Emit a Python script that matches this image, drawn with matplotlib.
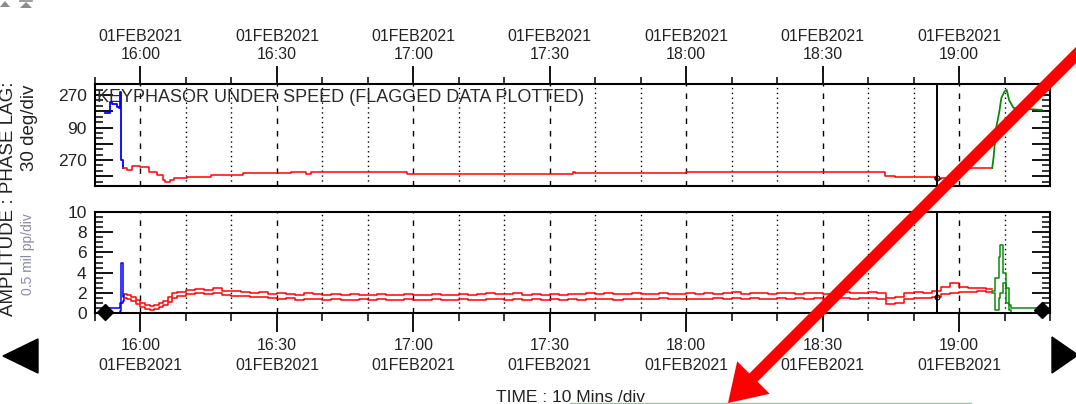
import matplotlib
matplotlib.use("Agg")
import matplotlib.pyplot as plt
import matplotlib.dates as mdates
from matplotlib.ticker import FuncFormatter
from matplotlib.patches import Polygon, FancyArrow
from matplotlib.lines import Line2D
import numpy as np
import pandas as pd

plt.rcParams['font.family'] = ['Liberation Sans', 'DejaVu Sans']

START = pd.Timestamp("2021-02-01 16:00")

# ---------------------------------------------------------------------
# Trend data (times in minutes after 16:00)
# ---------------------------------------------------------------------
# phase lag, unwrapped degrees
phase_blue_t = [-7.7, -6.9, -6.8, -6.3, -5.5, -5.1, -4.8, -4.5, -4.4, -4.2, -3.9]
phase_blue = [170, 170, 231, 220, 220, 204, 198, 198, 287, -90, -134]

phase_red_t = [-3.9, -3.0, -1.8, 0.0, 0.5, 1.8, 3.7, 5.0, 5.5, 6.5, 7.3, 10.3, 15.4,
               22.6, 33.0, 36.5, 37.5, 58.0, 58.6, 95.0, 95.6, 120.0, 163.7, 166.0,
               174.7, 176.0, 180.0, 181.0, 187.3]
phase_red = [-134, -145, -123, -129, -129, -156, -173, -200, -212, -201, -190, -184, -173,
             -162, -157, -170, -157, -157, -165, -157, -163, -157, -179, -184,
             -195, -190, -150, -134, -134]

phase_green_t = [187.3, 187.6, 188.2, 188.8, 189.3, 190.0, 190.5, 191.0, 192.0, 195.0, 198.2]
phase_green = [-134, -73, 93, 170, 253, 290, 298, 242, 198, 193, 187]

# amplitude, mil pp (upper / lower trace)
amp_blue_t = [-7.7, -4.8, -4.5, -4.2, -3.9, -3.7]
amp_blue_hi = [0.5, 0.5, 1.0, 5.0, 1.6, 1.9]
amp_blue_lo = [0.0, 0.0, 0.2, 1.0, 1.2, 1.5]

amp_red_t = [-3.7, -3.0, -2.0, -1.0, 0, 1, 2, 3, 4, 5, 6, 7,
             8, 10, 12, 14, 16, 18, 20, 22, 24, 26, 28, 30,
             32, 34, 36, 38, 40, 42, 44, 46, 48, 50, 52, 54,
             56, 58, 60, 62, 64, 66, 68, 70, 72, 74, 76, 78,
             80, 82, 84, 86, 88, 90, 92, 94, 96, 98, 100, 102,
             104, 106, 108, 110, 112, 114, 116, 118, 120, 122, 124, 126,
             128, 130, 132, 134, 136, 138, 140, 142, 144, 146, 148, 150,
             152, 154, 156, 158, 160, 162, 164, 166, 168, 170, 172, 174,
             176, 178, 180, 182, 184, 186, 187.3]
amp_red_hi = [1.9, 1.8, 1.6, 1.3, 1.0, 0.8, 0.7, 0.8, 1.0, 1.2, 1.6, 2.0,
              2.1, 2.3, 2.4, 2.3, 2.5, 2.2, 2.2, 2.1, 2.0, 2.1, 1.9, 2.0,
              1.9, 1.8, 2.0, 1.9, 1.8, 1.9, 1.8, 1.9, 1.8, 1.8, 1.9, 1.8,
              1.8, 1.9, 1.8, 1.8, 1.9, 1.8, 1.8, 1.9, 1.8, 1.9, 2.0, 1.9,
              1.9, 2.0, 1.8, 1.9, 1.8, 1.9, 1.8, 1.9, 1.9, 2.0, 1.9, 2.0,
              1.9, 1.9, 2.0, 1.9, 1.9, 2.0, 1.9, 1.9, 2.0, 1.9, 2.0, 1.9,
              2.0, 2.1, 1.9, 2.0, 2.0, 1.9, 2.0, 2.0, 1.9, 2.0, 2.0, 1.9,
              2.0, 2.1, 2.0, 2.0, 2.1, 2.0, 1.5, 1.6, 2.0, 2.1, 2.0, 2.2,
              2.6, 3.0, 2.6, 2.5, 2.5, 2.4, 2.4]
amp_red_lo = [1.5, 1.4, 1.2, 0.9, 0.6, 0.4, 0.3, 0.4, 0.6, 0.8, 1.1, 1.5,
              1.7, 1.9, 2.0, 1.9, 2.0, 1.8, 1.7, 1.7, 1.6, 1.6, 1.5, 1.4,
              1.5, 1.3, 1.4, 1.4, 1.3, 1.4, 1.3, 1.3, 1.4, 1.3, 1.4, 1.3,
              1.3, 1.4, 1.3, 1.3, 1.4, 1.3, 1.3, 1.4, 1.3, 1.3, 1.4, 1.4,
              1.3, 1.4, 1.3, 1.4, 1.3, 1.4, 1.3, 1.4, 1.3, 1.4, 1.4, 1.4,
              1.3, 1.4, 1.4, 1.4, 1.4, 1.5, 1.4, 1.4, 1.4, 1.4, 1.4, 1.5,
              1.4, 1.5, 1.4, 1.5, 1.4, 1.4, 1.5, 1.4, 1.5, 1.4, 1.5, 1.4,
              1.5, 1.5, 1.4, 1.5, 1.5, 1.4, 0.9, 1.0, 1.4, 1.5, 1.5, 1.6,
              1.9, 2.0, 2.1, 2.1, 2.2, 2.1, 2.1]

amp_green_t = [187.3, 188.0, 188.8, 189.0, 189.6, 190.3, 191.0, 191.5, 198.2]
amp_green_hi = [2.2, 3.5, 5.5, 6.7, 4.0, 2.5, 0.8, 0.5, 0.4]
amp_green_lo = [2.0, 0.3, 1.5, 2.0, 3.0, 1.0, 0.3, 0.0, 0.0]

marker_t = [-7.7, 198.2]
marker_amp = [0.1, 0.3]
cursor_t = 175.2
cursor_phase = -190
cursor_amp = 1.6

phase_tick_pos = [-180, -90, 0, 90, 180, 270]
phase_tick_lab = ["", "270", "", "90", "", "270"]


def to_time(mins):
    return (START + pd.to_timedelta(np.asarray(mins, dtype=float), unit="min")).to_numpy()


def fmt_top(x, pos):
    d = mdates.num2date(x)
    return d.strftime("%d%b%Y").upper() + "\n" + d.strftime("%H:%M")


def fmt_bottom(x, pos):
    d = mdates.num2date(x)
    return d.strftime("%H:%M") + "\n" + d.strftime("%d%b%Y").upper()


W, H = 1076, 404
fig = plt.figure(figsize=(W / 100, H / 100), dpi=100)


def px(x, y):
    # pixel position (from top-left) -> inches from bottom-left
    return x / 100, (H - y) / 100


ax1 = fig.add_axes([95 / W, 1 - 186 / H, 955 / W, 102 / H])
ax2 = fig.add_axes([95 / W, 1 - 313 / H, 955 / W, 101 / H])

RED, BLUE, GREEN = "#ff0000", "#0000ff", "#0a8a0a"

# phase lag traces
ax1.plot(to_time(phase_blue_t), phase_blue, color=BLUE, lw=1.3, drawstyle="steps-post")
ax1.plot(to_time(phase_red_t), phase_red, color=RED, lw=1.1, drawstyle="steps-post")
ax1.plot(to_time(phase_green_t), phase_green, color=GREEN, lw=1.3)
ax1.plot(to_time([cursor_t]), [cursor_phase], "o", ms=3.5, mfc="none", mec="k", mew=0.8)

# amplitude traces
for t, hi, lo, c in [(amp_blue_t, amp_blue_hi, amp_blue_lo, BLUE),
                     (amp_red_t, amp_red_hi, amp_red_lo, RED),
                     (amp_green_t, amp_green_hi, amp_green_lo, GREEN)]:
    ax2.plot(to_time(t), hi, color=c, lw=1.1, drawstyle="steps-post")
    ax2.plot(to_time(t), lo, color=c, lw=1.1, drawstyle="steps-post")
ax2.plot(to_time(marker_t), marker_amp, "D", ms=8, color="k", clip_on=False, zorder=5)
ax2.plot(to_time([cursor_t]), [cursor_amp], "o", ms=3.5, mfc="none", mec="k", mew=0.8)

t0, t1 = to_time([-10, 200])
grid_times = to_time(np.arange(0, 191, 10))

for ax in (ax1, ax2):
    ax.set_xlim(t0, t1)
    for i, gt in enumerate(grid_times):
        ls = (0, (4, 5)) if i % 3 == 0 else (0, (1, 2.5))
        ax.axvline(gt, color="k", lw=1.0, ls=ls, zorder=0)
    ax.axvline(to_time([cursor_t])[0], color="k", lw=1.4, zorder=3)
    for s in ax.spines.values():
        s.set_linewidth(1.5)
    ax.xaxis.set_major_locator(mdates.MinuteLocator(byminute=[0, 30]))
    ax.xaxis.set_minor_locator(mdates.MinuteLocator(byminute=range(0, 60, 10)))
    ax.tick_params(axis="y", which="major", direction="in", length=13, width=1.3,
                   left=True, right=True, labelsize=12.5, pad=6, labelcolor="#222")
    ax.tick_params(axis="y", which="minor", direction="in", length=6, width=1.1,
                   left=True, right=True)

# top panel: time labels above
ax1.xaxis.tick_top()
ax1.xaxis.set_major_formatter(FuncFormatter(fmt_top))
ax1.tick_params(axis="x", which="major", direction="out", length=13, width=1.3,
                top=True, bottom=False, labeltop=True, labelbottom=False,
                labelsize=11.5, pad=3, labelcolor="#222")
ax1.tick_params(axis="x", which="minor", direction="out", length=5, width=1.1,
                top=True, bottom=False)
for lab in ax1.get_xticklabels():
    lab.set_linespacing(1.25)
ax1.set_ylim(-234, 331)
ax1.set_yticks(phase_tick_pos)
ax1.set_yticklabels(phase_tick_lab)
ax1.set_yticks(np.arange(-210, 331, 30), minor=True)
ax1.text(0.002, 0.87, "KEYPHASOR UNDER SPEED (FLAGGED DATA PLOTTED)",
         transform=ax1.transAxes, fontsize=13, color="#2a2a2a", va="center", ha="left")

# bottom panel: time labels below
ax2.xaxis.set_major_formatter(FuncFormatter(fmt_bottom))
ax2.tick_params(axis="x", which="major", direction="out", length=14, width=1.3,
                top=False, bottom=True, labelsize=11.5, pad=4, labelcolor="#222")
ax2.tick_params(axis="x", which="minor", direction="out", length=6, width=1.1,
                top=False, bottom=True)
for lab in ax2.get_xticklabels():
    lab.set_linespacing(1.45)
ax2.set_ylim(0, 10)
ax2.set_yticks(np.arange(0, 11, 2))
ax2.set_yticks(np.arange(0, 10.01, 0.5), minor=True)

# axis captions
fig.text(9 / W, 1 - 199 / H, "AMPLITUDE : PHASE LAG:", rotation=90, fontsize=13.5,
         color="#222", ha="center", va="center")
fig.text(30 / W, 1 - 128 / H, "30 deg/div", rotation=90, fontsize=13.5,
         color="#222", ha="center", va="center")
fig.text(28 / W, 1 - 254 / H, "0.5 mil pp/div", rotation=90, fontsize=10,
         color="#8a8aa8", ha="center", va="center")
fig.text(570 / W, 1 - 402 / H, "TIME : 10 Mins /div", fontsize=12.5,
         color="#222", ha="center", va="baseline")

# navigation arrows and small icons
tr = fig.dpi_scale_trans
fig.add_artist(Polygon([px(3, 356), px(38, 339), px(38, 373)], closed=True,
                       facecolor="k", edgecolor="k", transform=tr))
fig.add_artist(Polygon([px(1078, 355), px(1052, 337), px(1052, 373)], closed=True,
                       facecolor="k", edgecolor="k", transform=tr))
fig.add_artist(Polygon([px(0, 7), px(5, 1), px(10, 7)], closed=True,
                       facecolor="#8c8c8c", edgecolor="none", transform=tr))
fig.add_artist(Polygon([px(20, 8), px(26, 2), px(32, 8)], closed=True,
                       facecolor="#8c8c8c", edgecolor="none", transform=tr))
fig.add_artist(Line2D([px(20, 1)[0], px(32, 1)[0]], [px(20, 1)[1], px(32, 1)[1]],
                      color="#8c8c8c", lw=1.2, transform=tr))
fig.add_artist(Line2D([px(570, 402.5)[0], px(971, 402.5)[0]],
                      [px(570, 402.5)[1], px(971, 402.5)[1]],
                      color="#9cc49c", lw=1.0, transform=tr))

# red pointer arrow
(ax_, ay_), (bx_, by_) = px(1095, 36), px(728, 403)
fig.add_artist(FancyArrow(ax_, ay_, bx_ - ax_, by_ - ay_, width=0.115, head_width=0.46,
                          head_length=0.36, length_includes_head=True,
                          facecolor="#ff0000", edgecolor="none", transform=tr, zorder=10))

fig.savefig("out.png", dpi=100)
